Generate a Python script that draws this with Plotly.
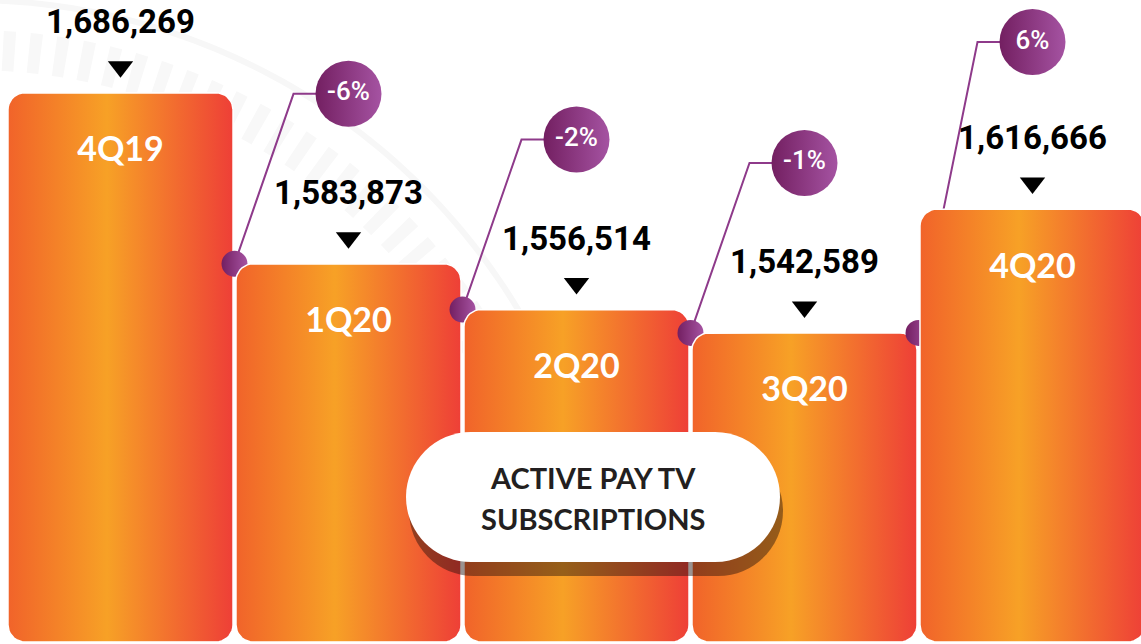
import numpy as np
import plotly.graph_objects as go

# ---------------- data ----------------
quarters = ["4Q19", "1Q20", "2Q20", "3Q20", "4Q20"]
subscriptions = [1686269, 1583873, 1556514, 1542589, 1616666]
qoq_change_labels = ["-6%", "-2%", "-1%", "6%"]   # change vs previous quarter (as printed)
title_lines = ["ACTIVE PAY TV", "SUBSCRIPTIONS"]

# ---------------- layout constants ----------------
W, H = 1141, 644
Y_MIN, Y_MAX = 1356500, 1741700
CAT_PX = 228.0
X_MIN = -120.5 / CAT_PX
X_MAX = X_MIN + W / CAT_PX
BAR_W = 0.987


def dy(px):
    return px * (Y_MAX - Y_MIN) / H


def dx(px):
    return px / CAT_PX


def to_px_y(v):
    return (Y_MAX - v) / (Y_MAX - Y_MIN) * H


def rounded_rect(xl, xr, yb, yt, rx, ry, n=10):
    xs, ys = [], []
    corners = [
        (xr - rx, yt - ry, 0, 90),
        (xl + rx, yt - ry, 90, 180),
        (xl + rx, yb + ry, 180, 270),
        (xr - rx, yb + ry, 270, 360),
    ]
    for cx, cy, a0, a1 in corners:
        for t in np.linspace(np.radians(a0), np.radians(a1), n):
            xs.append(cx + rx * np.cos(t))
            ys.append(cy + ry * np.sin(t))
    xs.append(xs[0])
    ys.append(ys[0])
    return xs, ys


BAR_SCALE = [[0.0, "#F1632A"], [0.44, "#F7A126"], [1.0, "#EE3F37"]]
PURPLE_L, PURPLE_R = "#731F61", "#A553A2"
NARROW = "Roboto, Liberation Sans Narrow, sans-serif"

fig = go.Figure()
base = Y_MIN + dy(2)

bubble_pos = []
for i, (q, v) in enumerate(zip(quarters, subscriptions)):
    if i > 0:
        bx = i
        top_px = to_px_y(v)
        by_px = max(top_px - 170, 42)
        by = Y_MAX - dy(by_px)
        anchor_y = min(v, subscriptions[i - 1])
        anchor_x = i - 0.5
        fig.add_trace(go.Scatter(
            x=[anchor_x, bx - dx(55), bx], y=[anchor_y, by, by],
            mode="lines", line=dict(color="#8E3A8A", width=2),
            hoverinfo="skip", showlegend=False))
        fig.add_trace(go.Scatter(
            x=[anchor_x], y=[anchor_y], mode="markers",
            marker=dict(size=26, color=PURPLE_L,
                        gradient=dict(type="horizontal", color=PURPLE_R),
                        line=dict(width=0)),
            hoverinfo="skip", showlegend=False))
        bubble_pos.append((bx, by))
    xs, ys = rounded_rect(i - BAR_W / 2, i + BAR_W / 2, base, v, dx(17), dy(17))
    fig.add_trace(go.Scatter(
        x=xs, y=ys, mode="lines", fill="toself",
        fillgradient=dict(type="horizontal", colorscale=BAR_SCALE),
        line=dict(color="white", width=1.5),
        name=q, hoverinfo="skip", showlegend=False))

# percentage bubbles
fig.add_trace(go.Scatter(
    x=[p[0] for p in bubble_pos], y=[p[1] for p in bubble_pos],
    mode="markers+text", text=qoq_change_labels, textposition="middle center",
    textfont=dict(family=NARROW, size=26, color="white", weight=500),
    marker=dict(size=66, color=PURPLE_L,
                gradient=dict(type="horizontal", color=PURPLE_R),
                line=dict(width=0)),
    hoverinfo="skip", showlegend=False))

# triangles above bars
fig.add_trace(go.Scatter(
    x=list(range(len(quarters))), y=[v + dy(26) for v in subscriptions],
    mode="markers", marker=dict(symbol="triangle-down", size=22, color="black"),
    hoverinfo="skip", showlegend=False))

# value labels
fig.add_trace(go.Scatter(
    x=list(range(len(quarters))), y=[v + dy(68) for v in subscriptions],
    mode="text", text=[f"{v:,}" for v in subscriptions],
    textposition="middle center",
    textfont=dict(family=NARROW, size=33, color="black", weight="bold"),
    hoverinfo="skip", showlegend=False))

# quarter labels inside bars
fig.add_trace(go.Scatter(
    x=list(range(len(quarters))), y=[v - dy(60) for v in subscriptions],
    mode="text", text=quarters, textposition="middle center",
    textfont=dict(family="Lato, Open Sans, sans-serif", size=34, color="white",
                  weight="bold"),
    hoverinfo="skip", showlegend=False))


# ---------------- decorative shapes ----------------
def P(x, y):
    return f"{x / W:.5f},{1 - y / H:.5f}"


def pill_path(l, r, t, b):
    rad = (b - t) / 2
    k = 0.5523 * rad
    cy = (t + b) / 2
    cl, cr = l + rad, r - rad
    return (f"M{P(cl, t)} L{P(cr, t)} "
            f"C{P(cr + k, t)} {P(r, cy - k)} {P(r, cy)} "
            f"C{P(r, cy + k)} {P(cr + k, b)} {P(cr, b)} "
            f"L{P(cl, b)} "
            f"C{P(cl - k, b)} {P(l, cy + k)} {P(l, cy)} "
            f"C{P(l, cy - k)} {P(cl - k, t)} {P(cl, t)} Z")


def arc_path(cx, cy, r, a0, a1, n=80):
    pts = [P(cx + r * np.cos(np.radians(a)), cy - r * np.sin(np.radians(a)))
           for a in np.linspace(a0, a1, n)]
    return "M" + " L".join(pts)


shapes = [
    dict(type="path", path=arc_path(-30, 640, 640, 20, 95), xref="paper", yref="paper",
         line=dict(color="#F7F7F7", width=6), layer="below"),
    dict(type="path", path=arc_path(-30, 640, 590, 20, 95), xref="paper", yref="paper",
         line=dict(color="#F8F8F8", width=40, dash="12px,14px"), layer="below"),
    dict(type="path", path=pill_path(409, 783, 446, 576), xref="paper", yref="paper",
         fillcolor="rgba(30,15,10,0.45)", line=dict(width=0), layer="above"),
    dict(type="path", path=pill_path(406, 780, 432, 562), xref="paper", yref="paper",
         fillcolor="white", line=dict(width=0), layer="above"),
]

annotations = [
    dict(x=593 / W, y=1 - yy / H, xref="paper", yref="paper",
         xanchor="center", yanchor="middle",
         text=line, showarrow=False,
         font=dict(family="Lato, Open Sans, sans-serif", size=29, color="#231F20",
                   weight="bold"))
    for line, yy in zip(title_lines, [477, 518])
]

fig.update_layout(
    width=W, height=H,
    margin=dict(l=0, r=0, t=0, b=0),
    paper_bgcolor="white", plot_bgcolor="white",
    xaxis=dict(range=[X_MIN, X_MAX], visible=False, fixedrange=True),
    yaxis=dict(range=[Y_MIN, Y_MAX], visible=False, fixedrange=True),
    shapes=shapes, annotations=annotations,
    showlegend=False,
)

fig.write_html("out.html", config={"displayModeBar": False},
               post_script="document.body.style.margin='0';")
